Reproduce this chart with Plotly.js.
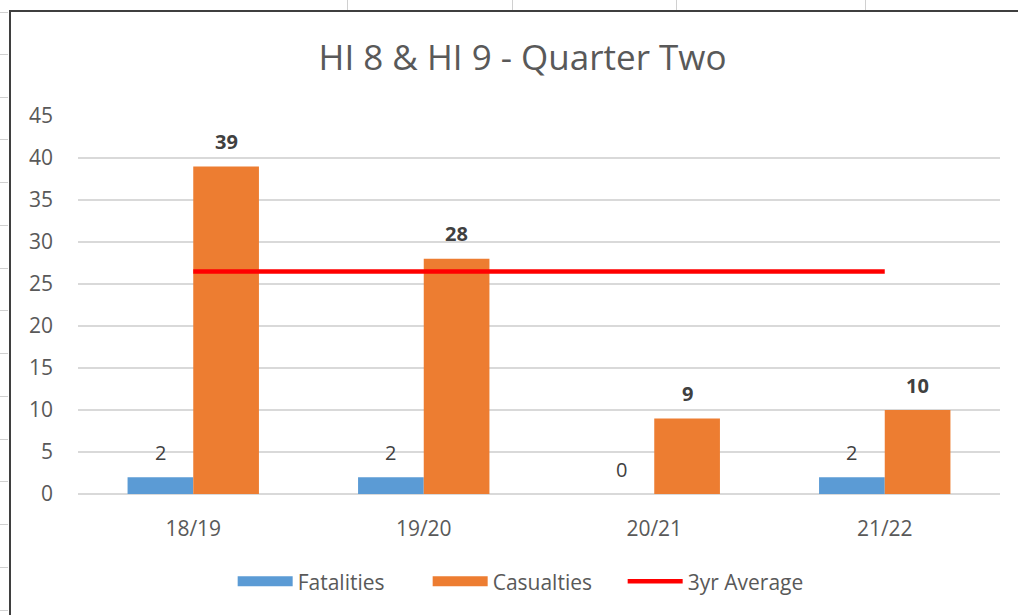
<!DOCTYPE html>
<html>
<head>
<meta charset="utf-8">
<script src="https://cdn.plot.ly/plotly-3.0.1.min.js"></script>
<style>
  html, body { margin: 0; padding: 0; background: #ffffff; width: 1018px; height: 615px; overflow: hidden; position: relative; }
  #frame { position: absolute; left: 9px; top: 10px; width: 1009px; height: 605px; border-left: 2px solid #3f3f3f; border-top: 2px solid #3f3f3f; }
  #chart { position: absolute; left: 11px; top: 12px; width: 1007px; height: 603px; }
  .col { position: absolute; top: 0; width: 1px; height: 10px; background: #d0d0d0; }
  .row { position: absolute; left: 0; width: 8px; height: 1px; background: #d0d0d0; }
</style>
</head>
<body>
<div class="col" style="left:347px"></div>
<div class="col" style="left:512px"></div>
<div class="col" style="left:676px"></div>
<div class="col" style="left:865px"></div>
<div class="row" style="top:12px"></div>
<div class="row" style="top:54px"></div>
<div class="row" style="top:97px"></div>
<div class="row" style="top:139px"></div>
<div class="row" style="top:182px"></div>
<div class="row" style="top:225px"></div>
<div class="row" style="top:268px"></div>
<div class="row" style="top:310px"></div>
<div class="row" style="top:353px"></div>
<div class="row" style="top:396px"></div>
<div class="row" style="top:439px"></div>
<div class="row" style="top:481px"></div>
<div class="row" style="top:524px"></div>
<div class="row" style="top:567px"></div>
<div class="row" style="top:610px"></div>
<div id="frame"></div>
<div id="chart"></div>
<script>
const categories = ["18/19", "19/20", "20/21", "21/22"];
const fatalities = [2, 2, 0, 2];
const casualties = [39, 28, 9, 10];
const threeYrAverage = [26.5, 26.5, 26.5, 26.5];
const yTickValues = [0, 5, 10, 15, 20, 25, 30, 35, 40, 45];
const seriesNames = ["Fatalities", "Casualties", "3yr Average"];

const FONT = "'Open Sans', Lato, sans-serif";
const GREY = "#595959";
const LABEL = "#404040";
const BLUE = "#5B9BD5";
const ORANGE = "#ED7D31";
const RED = "#FF0000";

const noValues = categories.map(() => null);

const traces = [
  {
    type: "bar", name: seriesNames[0], x: categories, y: fatalities,
    marker: { color: BLUE }, hoverinfo: "x+y", showlegend: false
  },
  {
    type: "bar", name: seriesNames[1], x: categories, y: casualties,
    marker: { color: ORANGE }, hoverinfo: "x+y", showlegend: false
  },
  {
    type: "scatter", mode: "lines", name: seriesNames[2], x: categories, y: threeYrAverage,
    line: { color: RED, width: 4.5 }, hoverinfo: "x+y", showlegend: false
  },
  // legend keys (wide rectangles as in the original)
  { type: "scatter", mode: "lines", name: seriesNames[0], x: categories, y: noValues,
    line: { color: BLUE, width: 13 }, legendrank: 1 },
  { type: "scatter", mode: "lines", name: seriesNames[1], x: categories, y: noValues,
    line: { color: ORANGE, width: 13 }, legendrank: 2 },
  { type: "scatter", mode: "lines", name: seriesNames[2], x: categories, y: noValues,
    line: { color: RED, width: 4.5 }, legendrank: 3 }
];

// data labels, placed above each bar
const annotations = [];
categories.forEach((c, i) => {
  annotations.push({
    x: c, y: fatalities[i], xref: "x", yref: "y", text: String(fatalities[i]),
    showarrow: false, xshift: -33, yshift: 25, yanchor: "middle",
    font: { family: FONT, size: 20, color: LABEL }
  });
  annotations.push({
    x: c, y: casualties[i], xref: "x", yref: "y", text: "<b>" + casualties[i] + "</b>",
    showarrow: false, xshift: 33, yshift: 25, yanchor: "middle",
    font: { family: FONT, size: 20, color: LABEL }
  });
});

const layout = {
  width: 1007, height: 603,
  margin: { l: 67, r: 18, t: 104, b: 121 },
  paper_bgcolor: "#ffffff", plot_bgcolor: "#ffffff",
  font: { family: FONT, color: GREY, size: 21 },
  title: {
    text: "HI 8 &amp; HI 9 - Quarter Two",
    font: { family: FONT, size: 35, color: GREY },
    x: 0.508, xref: "container", xanchor: "center",
    y: 0.924, yref: "container", yanchor: "middle"
  },
  barmode: "group", bargap: 0.43, bargroupgap: 0,
  xaxis: {
    type: "category", showgrid: false, zeroline: false, showline: false,
    ticks: "", ticklabelstandoff: 20,
    tickfont: { family: FONT, size: 21, color: GREY }
  },
  yaxis: {
    range: [0, 45], tickvals: yTickValues, ticktext: yTickValues.map(String),
    showgrid: true, gridcolor: "#d9d9d9", gridwidth: 1.2,
    zeroline: true, zerolinecolor: "#d9d9d9", zerolinewidth: 1.2,
    showline: false, ticks: "", ticklabelstandoff: 24,
    tickfont: { family: FONT, size: 21, color: GREY }
  },
  annotations: annotations,
  showlegend: true,
  legend: {
    orientation: "h", x: 0.485, xanchor: "center", y: -0.232, yanchor: "middle",
    font: { family: FONT, size: 21, color: GREY },
    itemwidth: 55, traceorder: "normal",
    entrywidth: 125, entrywidthmode: "pixels"
  }
};

Plotly.newPlot("chart", traces, layout, { displayModeBar: false, staticPlot: true });
</script>
</body>
</html>
